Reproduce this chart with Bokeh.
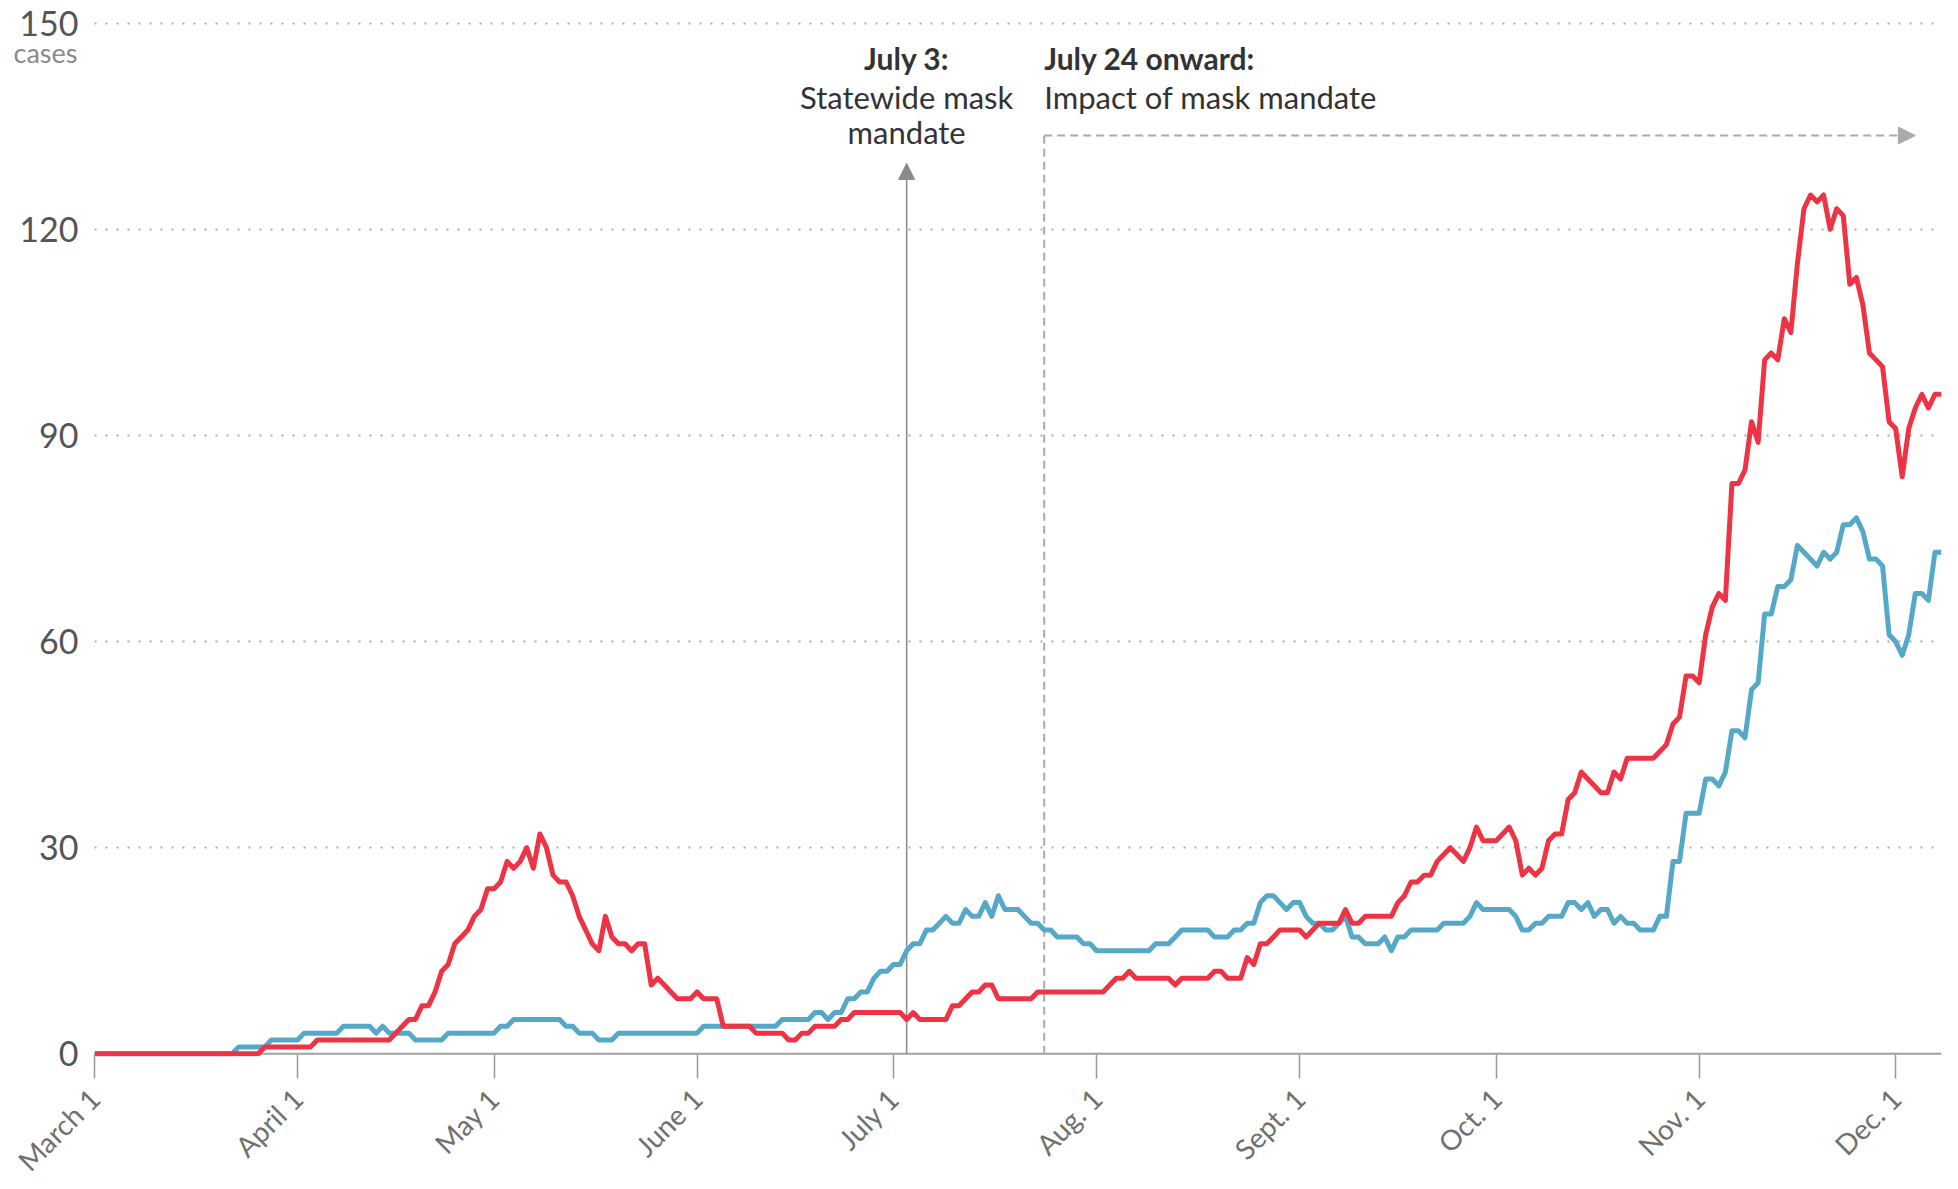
import pandas as pd
from math import pi
from bokeh.plotting import figure
from bokeh.models import (Range1d, FixedTicker, Span, Label, Arrow, NormalHead,
                          ColumnDataSource, LinearAxis)
from bokeh.embed import file_html
from bokeh.resources import INLINE

start_date = "2020-03-01"

red_cases = [
    0, 0, 0, 0, 0, 0, 0, 0, 0, 0,
    0, 0, 0, 0, 0, 0, 0, 0, 0, 0,
    0, 0, 0, 0, 0, 0, 1, 1, 1, 1,
    1, 1, 1, 1, 2, 2, 2, 2, 2, 2,
    2, 2, 2, 2, 2, 2, 3, 4, 5, 5,
    7, 7, 9, 12, 13, 16, 17, 18, 20, 21,
    24, 24, 25, 28, 27, 28, 30, 27, 32, 30,
    26, 25, 25, 23, 20, 18, 16, 15, 20, 17,
    16, 16, 15, 16, 16, 10, 11, 10, 9, 8,
    8, 8, 9, 8, 8, 8, 4, 4, 4, 4,
    4, 3, 3, 3, 3, 3, 2, 2, 3, 3,
    4, 4, 4, 4, 5, 5, 6, 6, 6, 6,
    6, 6, 6, 6, 5, 6, 5, 5, 5, 5,
    5, 7, 7, 8, 9, 9, 10, 10, 8, 8,
    8, 8, 8, 8, 9, 9, 9, 9, 9, 9,
    9, 9, 9, 9, 9, 10, 11, 11, 12, 11,
    11, 11, 11, 11, 11, 10, 11, 11, 11, 11,
    11, 12, 12, 11, 11, 11, 14, 13, 16, 16,
    17, 18, 18, 18, 18, 17, 18, 19, 19, 19,
    19, 21, 19, 19, 20, 20, 20, 20, 20, 22,
    23, 25, 25, 26, 26, 28, 29, 30, 29, 28,
    30, 33, 31, 31, 31, 32, 33, 31, 26, 27,
    26, 27, 31, 32, 32, 37, 38, 41, 40, 39,
    38, 38, 41, 40, 43, 43, 43, 43, 43, 44,
    45, 48, 49, 55, 55, 54, 61, 65, 67, 66,
    83, 83, 85, 92, 89, 101, 102, 101, 107, 105,
    115, 123, 125, 124, 125, 120, 123, 122, 112, 113,
    109, 102, 101, 100, 92, 91, 84, 91, 94, 96,
    94, 96, 96,
]

blue_cases = [
    0, 0, 0, 0, 0, 0, 0, 0, 0, 0,
    0, 0, 0, 0, 0, 0, 0, 0, 0, 0,
    0, 0, 1, 1, 1, 1, 1, 2, 2, 2,
    2, 2, 3, 3, 3, 3, 3, 3, 4, 4,
    4, 4, 4, 3, 4, 3, 3, 3, 3, 2,
    2, 2, 2, 2, 3, 3, 3, 3, 3, 3,
    3, 3, 4, 4, 5, 5, 5, 5, 5, 5,
    5, 5, 4, 4, 3, 3, 3, 2, 2, 2,
    3, 3, 3, 3, 3, 3, 3, 3, 3, 3,
    3, 3, 3, 4, 4, 4, 4, 4, 4, 4,
    4, 4, 4, 4, 4, 5, 5, 5, 5, 5,
    6, 6, 5, 6, 6, 8, 8, 9, 9, 11,
    12, 12, 13, 13, 15, 16, 16, 18, 18, 19,
    20, 19, 19, 21, 20, 20, 22, 20, 23, 21,
    21, 21, 20, 19, 19, 18, 18, 17, 17, 17,
    17, 16, 16, 15, 15, 15, 15, 15, 15, 15,
    15, 15, 16, 16, 16, 17, 18, 18, 18, 18,
    18, 17, 17, 17, 18, 18, 19, 19, 22, 23,
    23, 22, 21, 22, 22, 20, 19, 19, 18, 18,
    19, 20, 17, 17, 16, 16, 16, 17, 15, 17,
    17, 18, 18, 18, 18, 18, 19, 19, 19, 19,
    20, 22, 21, 21, 21, 21, 21, 20, 18, 18,
    19, 19, 20, 20, 20, 22, 22, 21, 22, 20,
    21, 21, 19, 20, 19, 19, 18, 18, 18, 20,
    20, 28, 28, 35, 35, 35, 40, 40, 39, 41,
    47, 47, 46, 53, 54, 64, 64, 68, 68, 69,
    74, 73, 72, 71, 73, 72, 73, 77, 77, 78,
    76, 72, 72, 71, 61, 60, 58, 61, 67, 67,
    66, 73, 73,
]

tick_dates = ["2020-03-01", "2020-04-01", "2020-05-01", "2020-06-01", "2020-07-01",
              "2020-08-01", "2020-09-01", "2020-10-01", "2020-11-01", "2020-12-01"]
tick_labels = ["March 1", "April 1", "May 1", "June 1", "July 1",
               "Aug. 1", "Sept. 1", "Oct. 1", "Nov. 1", "Dec. 1"]
y_ticks = [0, 30, 60, 90, 120, 150]
grid_ticks = [30, 60, 90, 120, 150]
unit_label = "cases"
unit_label_pos = 145.7

mandate_date = "2020-07-03"
impact_date = "2020-07-24"
impact_arrow_end = "2020-12-04"
range_end_date = "2020-12-08"

RED = "#EE3444"
BLUE = "#56A8C8"
FONT = "Lato"


def ms(d):
    return pd.Timestamp(d).value / 1e6


dates = pd.date_range(start_date, periods=len(red_cases), freq="D")
src = ColumnDataSource(dict(date=dates, red=red_cases, blue=blue_cases))

p = figure(x_axis_type="datetime", frame_width=1847, frame_height=1036,
           x_range=Range1d(ms(start_date), ms(range_end_date)),
           y_range=Range1d(-0.4, 150.4),
           output_backend="svg", toolbar_location=None,
           min_border_left=94, min_border_top=20, min_border_right=5,
           min_border_bottom=100)
p.outline_line_color = None
p.background_fill_color = "white"
p.border_fill_color = "white"

# grid
p.xgrid.grid_line_color = None
p.ygrid.ticker = FixedTicker(ticks=grid_ticks)
p.ygrid.grid_line_color = "#aaaaaa"
p.ygrid.grid_line_dash = "2 9"
p.ygrid.grid_line_width = 2

# baseline
p.add_layout(Span(location=0, dimension="width", line_color="#a0a0a0",
                  line_width=2, level="underlay"))

# y axis
p.yaxis.ticker = FixedTicker(ticks=y_ticks)
p.yaxis.axis_line_color = None
p.yaxis.major_tick_line_color = None
p.yaxis.major_tick_out = 0
p.yaxis.major_tick_in = 0
p.yaxis.minor_tick_line_color = None
p.yaxis.major_label_standoff = 16
p.yaxis.major_label_text_font = FONT
p.yaxis.major_label_text_font_size = "34px"
p.yaxis.major_label_text_color = "#555555"

# unit label ("cases") as a second, outer left axis pulled back under "150"
unit_axis = LinearAxis(ticker=FixedTicker(ticks=[unit_label_pos]),
                       major_label_overrides={unit_label_pos: unit_label},
                       axis_line_color=None, major_tick_line_color=None,
                       minor_tick_line_color=None, major_tick_out=0, major_tick_in=0,
                       major_label_standoff=-61, major_label_text_font=FONT,
                       major_label_text_font_size="27px",
                       major_label_text_color="#8a8a8a")
p.add_layout(unit_axis, "left")

# x axis
tick_ms = [ms(d) for d in tick_dates]
p.xaxis.ticker = FixedTicker(ticks=tick_ms)
p.xaxis.major_label_overrides = {t: l for t, l in zip(tick_ms, tick_labels)}
p.xaxis.major_label_orientation = pi / 4
p.xaxis.axis_line_color = None
p.xaxis.major_tick_line_color = "#999999"
p.xaxis.major_tick_line_width = 1.5
p.xaxis.major_tick_in = 2
p.xaxis.major_tick_out = 22
p.xaxis.minor_tick_line_color = None
p.xaxis.major_label_standoff = 15
p.xaxis.major_label_text_font = FONT
p.xaxis.major_label_text_font_size = "28px"
p.xaxis.major_label_text_color = "#707070"

# annotations (under the data lines)
p.add_layout(Arrow(x_start=ms(mandate_date), y_start=0, x_end=ms(mandate_date), y_end=129.6,
                   line_color="#8a8a8a", line_width=1.5, level="underlay",
                   end=NormalHead(size=16, fill_color="#8a8a8a", line_color="#8a8a8a")))
p.add_layout(Arrow(x_start=ms(impact_date), y_start=0, x_end=ms(impact_date), y_end=133.66,
                   line_color="#aaaaaa", line_width=2, line_dash="8 5", end=None,
                   level="underlay"))
p.add_layout(Arrow(x_start=ms(impact_date), y_start=133.66, x_end=ms(impact_arrow_end),
                   y_end=133.66, line_color="#aaaaaa", line_width=2, line_dash="8 5",
                   level="underlay",
                   end=NormalHead(size=17, fill_color="#aaaaaa", line_color="#aaaaaa")))

# data
p.line("date", "blue", source=src, line_color=BLUE, line_width=5, line_join="round")
p.line("date", "red", source=src, line_color=RED, line_width=5, line_join="round")


def add_label(text, x, y, align, bold=False, size="30px", color="#333333"):
    p.add_layout(Label(x=x, y=y, text=text, text_align=align, text_baseline="alphabetic",
                       text_font=FONT, text_font_size=size, text_color=color,
                       text_font_style="bold" if bold else "normal"))


add_label("July 3:", ms(mandate_date), 145.0, "center", bold=True)
add_label("Statewide mask", ms(mandate_date), 139.2, "center", size="31px")
add_label("mandate", ms(mandate_date), 134.1, "center", size="31px")
add_label("July 24 onward:", ms(impact_date), 145.0, "left", bold=True)
add_label("Impact of mask mandate", ms(impact_date), 139.2, "left", size="31px")

open("out.html", "w").write(file_html(p, INLINE))
